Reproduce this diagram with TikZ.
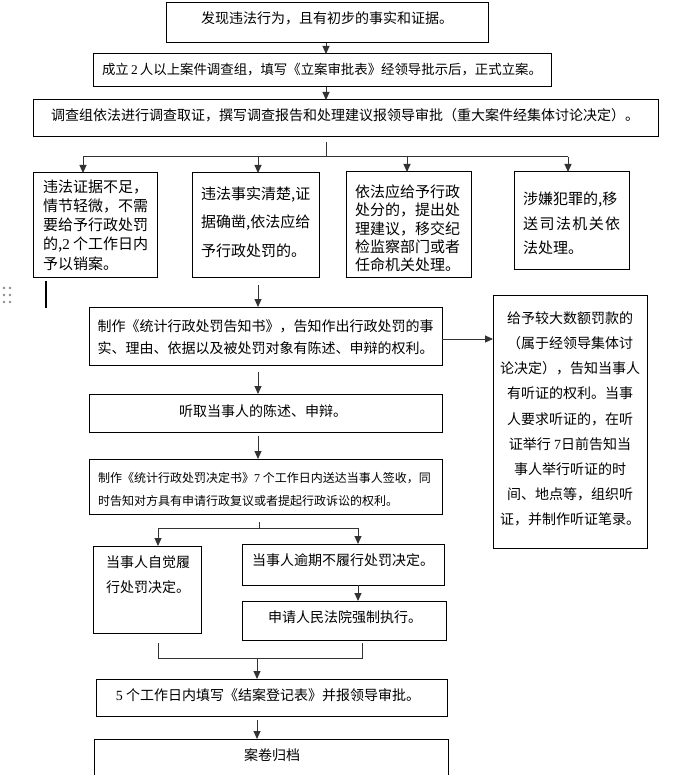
\documentclass[tikz,border=0pt]{standalone}
\usepackage{fontspec}
\setmainfont{Noto Sans CJK SC}
\newfontfamily\numf{Liberation Serif}
\usetikzlibrary{arrows.meta,calc}
\begin{document}
\begin{tikzpicture}[x=1pt,y=-1pt,
  box/.style={draw=black,line width=1pt,inner sep=0pt,outer sep=0pt,rectangle},
  ln/.style={draw=black!80,line width=1pt},
  arr/.style={draw=black!80,line width=1pt,-{Triangle[length=8pt,width=7pt]}},
  tx/.style={inner sep=0pt,font=\fontsize{14pt}{17pt}\selectfont},
  tm/.style={inner sep=0pt,font=\fontsize{15pt}{19.3pt}\selectfont,align=left,anchor=west},
  dot/.style={fill=black!45,draw=none}]
\useasboundingbox (0,0) rectangle (676,775);
\fill[white] (0,0) rectangle (676,775);
% boxes
\node[box,minimum width=322pt,minimum height=40pt] (b1) at (327,23) {};
\node[box,minimum width=458pt,minimum height=33pt] (b2) at (322,70.5) {};
\node[box,minimum width=625pt,minimum height=37pt] (b3) at (345.5,118.5) {};
\node[box,minimum width=124pt,minimum height=104pt] (bA) at (95,225) {};
\node[box,minimum width=127pt,minimum height=104pt] (bB) at (255.5,225) {};
\node[box,minimum width=125pt,minimum height=105pt] (bC) at (408.5,224.5) {};
\node[box,minimum width=115pt,minimum height=97pt] (bD) at (571.5,220.5) {};
\node[box,minimum width=353pt,minimum height=58pt] (bE) at (265.5,336) {};
\node[box,minimum width=154pt,minimum height=253pt] (bF) at (570,421.5) {};
\node[box,minimum width=353pt,minimum height=38pt] (bG) at (265.5,413) {};
\node[box,minimum width=353pt,minimum height=55pt] (bH) at (265.5,486.5) {};
\node[box,minimum width=108pt,minimum height=87pt] (bI) at (147,589.5) {};
\node[box,minimum width=202pt,minimum height=41pt] (bJ) at (343,564.5) {};
\node[box,minimum width=204pt,minimum height=39pt] (bK) at (344,620.5) {};
\node[box,minimum width=351pt,minimum height=37pt] (bL) at (271.5,697.5) {};
\node[box,minimum width=354pt,minimum height=51pt] (bM) at (271,764.5) {};
% texts
\node[tx] (t1) at (327,18) {发现违法行为，且有初步的事实和证据。};
\node[tx,font=\fontsize{13.4pt}{16pt}\selectfont] (t2) at (322,70) {成立\,{\numf 2}\,人以上案件调查组，填写《立案审批表》经领导批示后，正式立案。};
\node[tx] (t3) at (345,115) {调查组依法进行调查取证，撰写调查报告和处理建议报领导审批（重大案件经集体讨论决定）。};
\node[tm] (tA) at (43,225) {违法证据不足，\\情节轻微，不需\\要给予行政处罚\\的,{\numf 2} 个工作日内\\予以销案。};
\node[tm,font=\fontsize{15pt}{28.5pt}\selectfont] (tB) at (201,222) {违法事实清楚,证\\据确凿,依法应给\\予行政处罚的。};
\node[tm,font=\fontsize{15pt}{18.3pt}\selectfont] (tC) at (355,228.5) {依法应给予行政\\处分的，提出处\\理建议，移交纪\\检监察部门或者\\任命机关处理。};
\node[tm,font=\fontsize{15pt}{24.5pt}\selectfont] (tD) at (523,223.5) {涉嫌犯罪的,移\\\hbox to 97pt{送\hfill 司\hfill 法\hfill 机\hfill 关\hfill 依}\\法处理。};
\node[tx,align=center,font=\fontsize{14pt}{22pt}\selectfont] (tE) at (265.5,337) {制作《统计行政处罚告知书》，告知作出行政处罚的事\\实、理由、依据以及被处罚对象有陈述、申辩的权利。};
\node[tx,align=center,font=\fontsize{14pt}{25.2pt}\selectfont] (tF) at (570,419) {给予较大数额罚款的\\（属于经领导集体讨\\论决定），告知当事人\\有听证的权利。当事\\人要求听证的，在听\\证举行 {\numf 7}日前告知当\\事人举行听证的时\\间、地点等，组织听\\证，并制作听证笔录。};
\node[tx] (tG) at (263,411) {听取当事人的陈述、申辩。};
\node[tx,align=left,anchor=west,font=\fontsize{12pt}{23pt}\selectfont] (tH) at (98,489) {制作《统计行政处罚决定书》{\numf 7} 个工作日内送达当事人签收，同\\时告知对方具有申请行政复议或者提起行政诉讼的权利。};
\node[tx,align=left,anchor=west,font=\fontsize{14pt}{25pt}\selectfont] (tI) at (106,574.5) {当事人自觉履\\行处罚决定。};
\node[tx,anchor=west] (tJ) at (252,560) {当事人逾期不履行处罚决定。};
\node[tx] (tK) at (345,617) {申请人民法院强制执行。};
\node[tx] (tL) at (268,695) {{\numf 5} 个工作日内填写《结案登记表》并报领导审批。};
\node[tx] (tM) at (272,755) {案卷归档};
% coordinates
\coordinate (sp) at (326,0);
\coordinate (br1) at (326,142);
\coordinate (br2) at (326,157);
\coordinate (hA) at (83,157);
\coordinate (hB) at (258,157);
\coordinate (hC) at (407,157);
\coordinate (hD) at (568,157);
\coordinate (e1) at (258,285);
\coordinate (f1) at (0,339);
\coordinate (g1) at (258,372);
\coordinate (h1) at (258,436);
\coordinate (k1) at (259,522);
\coordinate (k2) at (259,528);
\coordinate (kL) at (158,528);
\coordinate (kR) at (358,528);
\coordinate (m1) at (158,643);
\coordinate (m2) at (158,658);
\coordinate (m3) at (362,658);
\coordinate (m4) at (362,643);
\coordinate (m5) at (257,658);
\coordinate (n1) at (257,720);
% connectors
\draw[arr] (b1.south -| sp) -- (b2.north -| sp);
\draw[arr] (b2.south -| sp) -- (b3.north -| sp);
\draw[ln] (br1) -- (br2);
\draw[ln] (hA) -- (hD);
\draw[arr] (hA) -- (bA.north -| hA);
\draw[arr] (hB) -- (bB.north -| hB);
\draw[arr] (hC) -- (bC.north -| hC);
\draw[arr] (hD) -- (bD.north -| hD);
\draw[arr] (e1) -- (bE.north -| e1);
\draw[arr] (bE.east |- f1) -- (bF.west |- f1);
\draw[arr] (g1) -- (bG.north -| g1);
\draw[arr] (h1) -- (bH.north -| h1);
\draw[ln] (k1) -- (k2);
\draw[ln] (kL) -- (kR);
\draw[arr] (kL) -- (bI.north -| kL);
\draw[arr] (kR) -- (bJ.north -| kR);
\draw[arr] (bJ.south -| kR) -- (bK.north -| kR);
\draw[ln] (m1) -- (m2) -- (m3) -- (m4);
\draw[arr] (m5) -- (bL.north -| m5);
\draw[arr] (n1) -- (bM.north -| n1);
% editor artefacts
\draw[black,line width=2pt] (46,281) -- (46,308);
\foreach \yy in {288,295,302}{
  \fill[dot] (4,\yy) circle (1.3);
  \fill[dot] (10,\yy) circle (1.3);
}
\end{tikzpicture}
\end{document}
